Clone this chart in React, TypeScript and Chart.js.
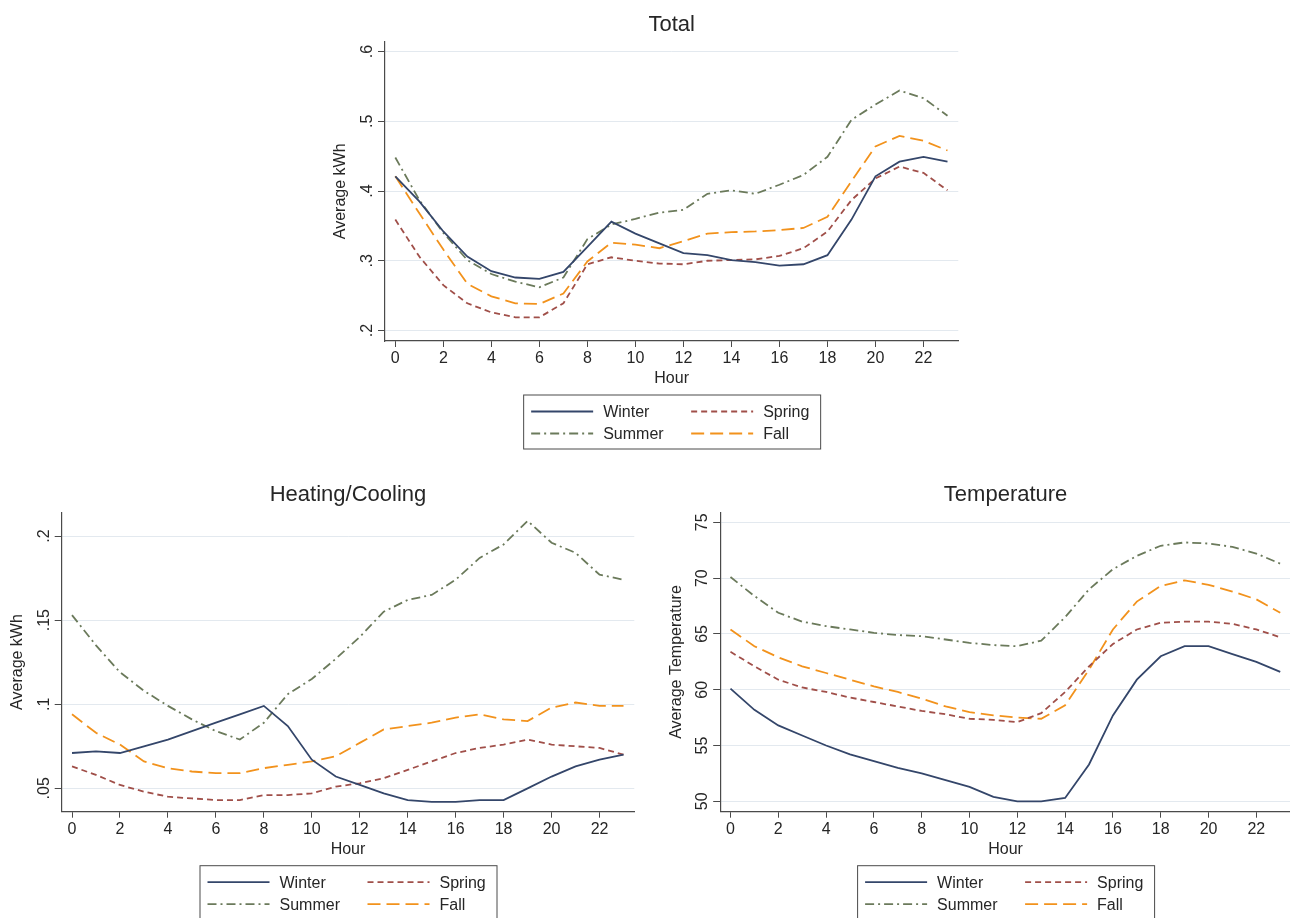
import React, { useEffect, useRef } from 'react';
import { Chart, registerables } from 'chart.js';

Chart.register(...registerables);

const hours = [0, 1, 2, 3, 4, 5, 6, 7, 8, 9, 10, 11, 12, 13, 14, 15, 16, 17, 18, 19, 20, 21, 22, 23];
const xTicks = [0, 2, 4, 6, 8, 10, 12, 14, 16, 18, 20, 22];
const seasons = ['Winter', 'Spring', 'Summer', 'Fall'];

const totalWinter = [0.421, 0.385, 0.342, 0.306, 0.285, 0.276, 0.274, 0.284, 0.320, 0.356, 0.339, 0.325, 0.311, 0.308, 0.301, 0.298, 0.293, 0.295, 0.308, 0.359, 0.421, 0.442, 0.449, 0.442];
const totalSpring = [0.359, 0.306, 0.265, 0.239, 0.226, 0.219, 0.219, 0.239, 0.295, 0.305, 0.300, 0.296, 0.295, 0.300, 0.301, 0.302, 0.307, 0.318, 0.342, 0.387, 0.418, 0.435, 0.426, 0.401];
const totalSummer = [0.448, 0.387, 0.340, 0.301, 0.281, 0.270, 0.262, 0.276, 0.331, 0.352, 0.360, 0.369, 0.373, 0.396, 0.401, 0.396, 0.409, 0.423, 0.449, 0.502, 0.524, 0.544, 0.533, 0.508];
const totalFall = [0.421, 0.368, 0.316, 0.267, 0.249, 0.239, 0.238, 0.253, 0.299, 0.326, 0.323, 0.318, 0.328, 0.339, 0.341, 0.342, 0.344, 0.347, 0.363, 0.414, 0.464, 0.479, 0.472, 0.458];

const hvacWinter = [0.071, 0.072, 0.071, 0.075, 0.079, 0.084, 0.089, 0.094, 0.099, 0.087, 0.067, 0.057, 0.052, 0.047, 0.043, 0.042, 0.042, 0.043, 0.043, 0.050, 0.057, 0.063, 0.067, 0.070];
const hvacSpring = [0.063, 0.058, 0.052, 0.048, 0.045, 0.044, 0.043, 0.043, 0.046, 0.046, 0.047, 0.051, 0.053, 0.056, 0.061, 0.066, 0.071, 0.074, 0.076, 0.079, 0.076, 0.075, 0.074, 0.070];
const hvacSummer = [0.153, 0.135, 0.119, 0.108, 0.099, 0.091, 0.084, 0.079, 0.089, 0.106, 0.115, 0.127, 0.140, 0.155, 0.162, 0.165, 0.174, 0.187, 0.195, 0.209, 0.196, 0.190, 0.177, 0.174];
const hvacFall = [0.094, 0.083, 0.076, 0.066, 0.062, 0.060, 0.059, 0.059, 0.062, 0.064, 0.066, 0.069, 0.077, 0.085, 0.087, 0.089, 0.092, 0.094, 0.091, 0.090, 0.098, 0.101, 0.099, 0.099];

const tempWinter = [60.1, 58.2, 56.8, 55.9, 55.0, 54.2, 53.6, 53.0, 52.5, 51.9, 51.3, 50.4, 50.0, 50.0, 50.3, 53.3, 57.7, 60.9, 63.0, 63.9, 63.9, 63.2, 62.5, 61.6];
const tempSpring = [63.4, 62.1, 60.9, 60.2, 59.8, 59.3, 58.9, 58.5, 58.1, 57.8, 57.4, 57.3, 57.1, 57.9, 59.8, 62.1, 64.1, 65.4, 66.0, 66.1, 66.1, 65.9, 65.4, 64.7];
const tempSummer = [70.1, 68.4, 66.9, 66.1, 65.7, 65.4, 65.1, 64.9, 64.8, 64.5, 64.2, 64.0, 63.9, 64.4, 66.5, 69.0, 70.8, 72.0, 72.9, 73.2, 73.1, 72.8, 72.2, 71.3];
const tempFall = [65.4, 63.9, 62.9, 62.1, 61.5, 60.9, 60.3, 59.8, 59.2, 58.5, 58.0, 57.7, 57.5, 57.4, 58.6, 61.8, 65.4, 67.9, 69.3, 69.8, 69.4, 68.8, 68.1, 66.9];

const totalYTicks = [0.2, 0.3, 0.4, 0.5, 0.6];
const totalYLabels = ['.2', '.3', '.4', '.5', '.6'];
const hvacYTicks = [0.05, 0.1, 0.15, 0.2];
const hvacYLabels = ['.05', '.1', '.15', '.2'];
const tempYTicks = [50, 55, 60, 65, 70, 75];
const tempYLabels = ['50', '55', '60', '65', '70', '75'];

const colors = ['#34466a', '#a04f49', '#6b7a5b', '#f2921c'];
const dashes: number[][] = [[], [6, 4], [9, 4, 2, 4], [13, 6]];

const FONT = "'Liberation Sans', Arial, sans-serif";
const TEXT = '#262626';
const AXIS = '#4a4a4a';
const GRID = '#e3e9ef';
const X_MIN = -0.43;
const X_MAX = 23.45;
const X_SCALE_H = 60;

type Cfg = {
  left: number; top: number; width: number; height: number;
  area: { left: number; right: number; top: number; bottom: number };
  title: string; yTitle: string;
  series: number[][]; yTicks: number[]; yLabels: string[]; yMin: number; yMax: number;
};

function StataChart({ cfg }: { cfg: Cfg }) {
  const ref = useRef<HTMLCanvasElement>(null);
  useEffect(() => {
    const canvas = ref.current!;
    const { area } = cfg;
    const decor = {
      id: 'stataDecor',
      afterDraw(chart: any) {
        const ctx = chart.ctx as CanvasRenderingContext2D;
        const ca = chart.chartArea;
        const cx = (ca.left + ca.right) / 2;
        ctx.save();
        ctx.fillStyle = TEXT;
        ctx.font = `22px ${FONT}`;
        ctx.textAlign = 'center';
        ctx.textBaseline = 'middle';
        ctx.fillText(cfg.title, cx, ca.top - 17);
        const ys = chart.scales.y;
        ctx.font = `16px ${FONT}`;
        ys.ticks.forEach((t: any, i: number) => {
          const py = ys.getPixelForValue(t.value);
          ctx.save();
          ctx.translate(ys.right - 13, py);
          ctx.rotate(-Math.PI / 2);
          ctx.textAlign = 'center';
          ctx.textBaseline = 'alphabetic';
          ctx.fillText(cfg.yLabels[i], 0, 0);
          ctx.restore();
        });
        const W = 297, H = 54;
        const L = cx - W / 2;
        const T = ca.bottom + 53.5;
        ctx.strokeStyle = AXIS;
        ctx.lineWidth = 1;
        ctx.setLineDash([]);
        ctx.strokeRect(L + 0.5, T + 0.5, W, H);
        chart.data.datasets.forEach((ds: any, i: number) => {
          const col = i % 2, row = Math.floor(i / 2);
          const y = T + (row === 0 ? 17 : 39);
          const x0 = L + (col === 0 ? 8 : 168);
          ctx.strokeStyle = ds.borderColor;
          ctx.lineWidth = ds.borderWidth;
          ctx.setLineDash(ds.borderDash || []);
          ctx.beginPath();
          ctx.moveTo(x0, y);
          ctx.lineTo(x0 + 62, y);
          ctx.stroke();
          ctx.setLineDash([]);
          ctx.fillStyle = TEXT;
          ctx.font = `16px ${FONT}`;
          ctx.textAlign = 'left';
          ctx.textBaseline = 'middle';
          ctx.fillText(ds.label, x0 + 72, y + 1);
        });
        ctx.restore();
      },
    };
    const chart = new Chart(canvas, {
      type: 'line',
      data: {
        datasets: seasons.map((s, i) => ({
          label: s,
          data: hours.map((h, j) => ({ x: h, y: cfg.series[i][j] })),
          borderColor: colors[i],
          borderDash: dashes[i],
          borderWidth: 1.8,
          pointRadius: 0,
          tension: 0,
          fill: false,
        })),
      },
      options: {
        responsive: false,
        animation: false,
        layout: {
          padding: {
            left: 0,
            top: area.top,
            right: cfg.width - area.right,
            bottom: cfg.height - area.bottom - X_SCALE_H,
          },
        },
        plugins: { legend: { display: false }, tooltip: { enabled: false }, title: { display: false } },
        scales: {
          x: {
            type: 'linear',
            min: X_MIN,
            max: X_MAX,
            afterBuildTicks: (s: any) => { s.ticks = xTicks.map((v) => ({ value: v })); },
            afterFit: (s: any) => { s.height = X_SCALE_H; },
            ticks: { font: { family: FONT, size: 16 }, color: TEXT, padding: 2, maxRotation: 0, callback: (v: any) => String(v) },
            grid: { drawOnChartArea: false, drawTicks: true, tickLength: 6, tickColor: AXIS, tickWidth: 1 },
            border: { display: true, color: AXIS, width: 1.2 },
            title: { display: true, text: 'Hour', font: { family: FONT, size: 16 }, color: TEXT, padding: { top: 0, bottom: X_SCALE_H - 38 - 9.6 } },
          },
          y: {
            type: 'linear',
            min: cfg.yMin,
            max: cfg.yMax,
            afterBuildTicks: (s: any) => { s.ticks = cfg.yTicks.map((v) => ({ value: v })); },
            afterFit: (s: any) => { s.width = area.left; },
            ticks: { display: false },
            grid: { color: GRID, lineWidth: 1, drawTicks: true, tickLength: 7, tickColor: AXIS, tickWidth: 1 },
            border: { display: true, color: AXIS, width: 1.2 },
            title: { display: true, text: cfg.yTitle, font: { family: FONT, size: 16 }, color: TEXT, padding: { top: area.left - 44 - 9.6, bottom: 0 } },
          },
        },
      },
      plugins: [decor],
    } as any);
    return () => chart.destroy();
  }, []);
  return (
    <div style={{ position: 'absolute', left: cfg.left, top: cfg.top, width: cfg.width, height: cfg.height }}>
      <canvas ref={ref} width={cfg.width} height={cfg.height} style={{ display: 'block' }} />
    </div>
  );
}

const totalCfg: Cfg = {
  left: 300, top: 0, width: 700, height: 460,
  area: { left: 85, right: 658.3, top: 41.7, bottom: 341 },
  title: 'Total', yTitle: 'Average kWh',
  series: [totalWinter, totalSpring, totalSummer, totalFall],
  yTicks: totalYTicks, yLabels: totalYLabels, yMin: 0.185, yMax: 0.614,
};

const hvacCfg: Cfg = {
  left: 0, top: 470, width: 650, height: 448,
  area: { left: 61.7, right: 634.3, top: 42.3, bottom: 341.7 },
  title: 'Heating/Cooling', yTitle: 'Average kWh',
  series: [hvacWinter, hvacSpring, hvacSummer, hvacFall],
  yTicks: hvacYTicks, yLabels: hvacYLabels, yMin: 0.0361, yMax: 0.2141,
};

const tempCfg: Cfg = {
  left: 650, top: 470, width: 650, height: 448,
  area: { left: 70.2, right: 641, top: 42.3, bottom: 341.7 },
  title: 'Temperature', yTitle: 'Average Temperature',
  series: [tempWinter, tempSpring, tempSummer, tempFall],
  yTicks: tempYTicks, yLabels: tempYLabels, yMin: 49.07, yMax: 75.9,
};

export default function App() {
  return (
    <div style={{ position: 'absolute', left: 0, top: 0, width: 1290, height: 918, overflow: 'hidden', background: '#ffffff' }}>
      <StataChart cfg={totalCfg} />
      <StataChart cfg={hvacCfg} />
      <StataChart cfg={tempCfg} />
    </div>
  );
}
